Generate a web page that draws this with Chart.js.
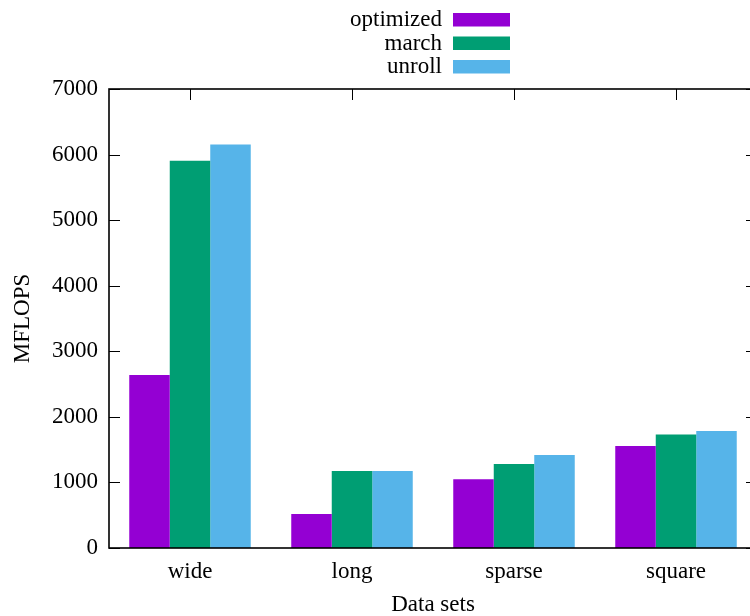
<!DOCTYPE html>
<html>
<head>
<meta charset="utf-8">
<script src="https://cdn.jsdelivr.net/npm/chart.js@4/dist/chart.umd.min.js"></script>
<style>
  html, body { margin: 0; padding: 0; background: #fff; overflow: hidden; }
  #wrap { width: 758px; height: 616px; position: relative; }
</style>
</head>
<body>
<div id="wrap"><canvas id="chart"></canvas></div>
<script>
// values
const categories = ["wide", "long", "sparse", "square"];
const optimized = [2640, 520, 1050, 1555];
const march = [5905, 1175, 1280, 1730];
const unroll = [6155, 1175, 1420, 1785];
const seriesNames = ["optimized", "march", "unroll"];
const seriesColors = ["#9400d3", "#009e73", "#56b4e9"];
const yTicks = [0, 1000, 2000, 3000, 4000, 5000, 6000, 7000];

const FONT = "'Liberation Serif', 'DejaVu Serif', serif";
const FSIZE = 23;
const TICK = 11;

// gnuplot style frame: border box + inward ticks (mirrored)
const framePlugin = {
  id: "frame",
  beforeDatasetsDraw(chart) {
    const { ctx, chartArea: a, scales } = chart;
    ctx.save();
    ctx.strokeStyle = "#000";
    ctx.lineWidth = 1;
    categories.forEach((c, i) => {
      const x = Math.round(scales.x.getPixelForValue(i)) + 0.5;
      ctx.beginPath();
      ctx.moveTo(x, a.bottom);
      ctx.lineTo(x, a.bottom - TICK);
      ctx.stroke();
    });
    ctx.restore();
  },
  afterDatasetsDraw(chart) {
    const { ctx, chartArea: a, scales } = chart;
    ctx.save();
    ctx.strokeStyle = "#000";
    ctx.lineWidth = 1;
    yTicks.forEach(v => {
      const y = Math.round(scales.y.getPixelForValue(v)) + 0.5;
      ctx.beginPath();
      ctx.moveTo(a.left, y);
      ctx.lineTo(a.left + TICK, y);
      ctx.moveTo(a.right, y);
      ctx.lineTo(a.right - TICK, y);
      ctx.stroke();
    });
    categories.forEach((c, i) => {
      const x = Math.round(scales.x.getPixelForValue(i)) + 0.5;
      ctx.beginPath();
      ctx.moveTo(x, a.top);
      ctx.lineTo(x, a.top + TICK);
      ctx.stroke();
    });
    ctx.lineWidth = 1.6;
    ctx.strokeRect(a.left, a.top, a.right - a.left, a.bottom - a.top);
    ctx.restore();
  }
};

// key in the gnuplot layout: text right aligned, sample box after it
const keyPlugin = {
  id: "key",
  afterDraw(chart) {
    const ctx = chart.ctx;
    ctx.save();
    ctx.font = FSIZE + "px " + FONT;
    ctx.textAlign = "right";
    ctx.textBaseline = "alphabetic";
    chart.data.datasets.forEach((ds, i) => {
      const top = 13 + i * 23.5;
      ctx.fillStyle = "#000";
      ctx.fillText(ds.label, 442, top + 13);
      ctx.fillStyle = ds.backgroundColor;
      ctx.fillRect(453, top, 57, 13.5);
    });
    ctx.restore();
  }
};

const datasets = [optimized, march, unroll].map((vals, i) => ({
  label: seriesNames[i],
  data: vals,
  backgroundColor: seriesColors[i],
  borderWidth: 0,
  categoryPercentage: 0.75,
  barPercentage: 1.0
}));

new Chart(document.getElementById("chart").getContext("2d"), {
  type: "bar",
  data: { labels: categories, datasets: datasets },
  options: {
    responsive: true,
    maintainAspectRatio: false,
    animation: false,
    layout: { padding: { top: 89, right: 1, left: 0, bottom: 0 } },
    plugins: {
      legend: { display: false },
      tooltip: { enabled: false }
    },
    scales: {
      x: {
        offset: true,
        grid: { display: false, drawTicks: false },
        border: { display: false },
        ticks: { color: "#000", font: { family: FONT, size: FSIZE }, padding: 10 },
        title: {
          display: true, text: "Data sets", color: "#000",
          font: { family: FONT, size: FSIZE, lineHeight: 1 }, padding: 0
        },
        afterFit(scale) { scale.height = 68; }
      },
      y: {
        min: 0,
        max: 7000,
        grid: { display: false, drawTicks: false },
        border: { display: false },
        afterBuildTicks(scale) { scale.ticks = yTicks.map(v => ({ value: v })); },
        ticks: {
          color: "#000", font: { family: FONT, size: FSIZE }, padding: 11,
          callback: v => String(v)
        },
        title: {
          display: true, text: "MFLOPS", color: "#000",
          font: { family: FONT, size: FSIZE, lineHeight: 1 }, padding: { top: 11, bottom: 0 }
        },
        afterFit(scale) { scale.width = 109; }
      }
    }
  },
  plugins: [framePlugin, keyPlugin]
});
</script>
</body>
</html>
